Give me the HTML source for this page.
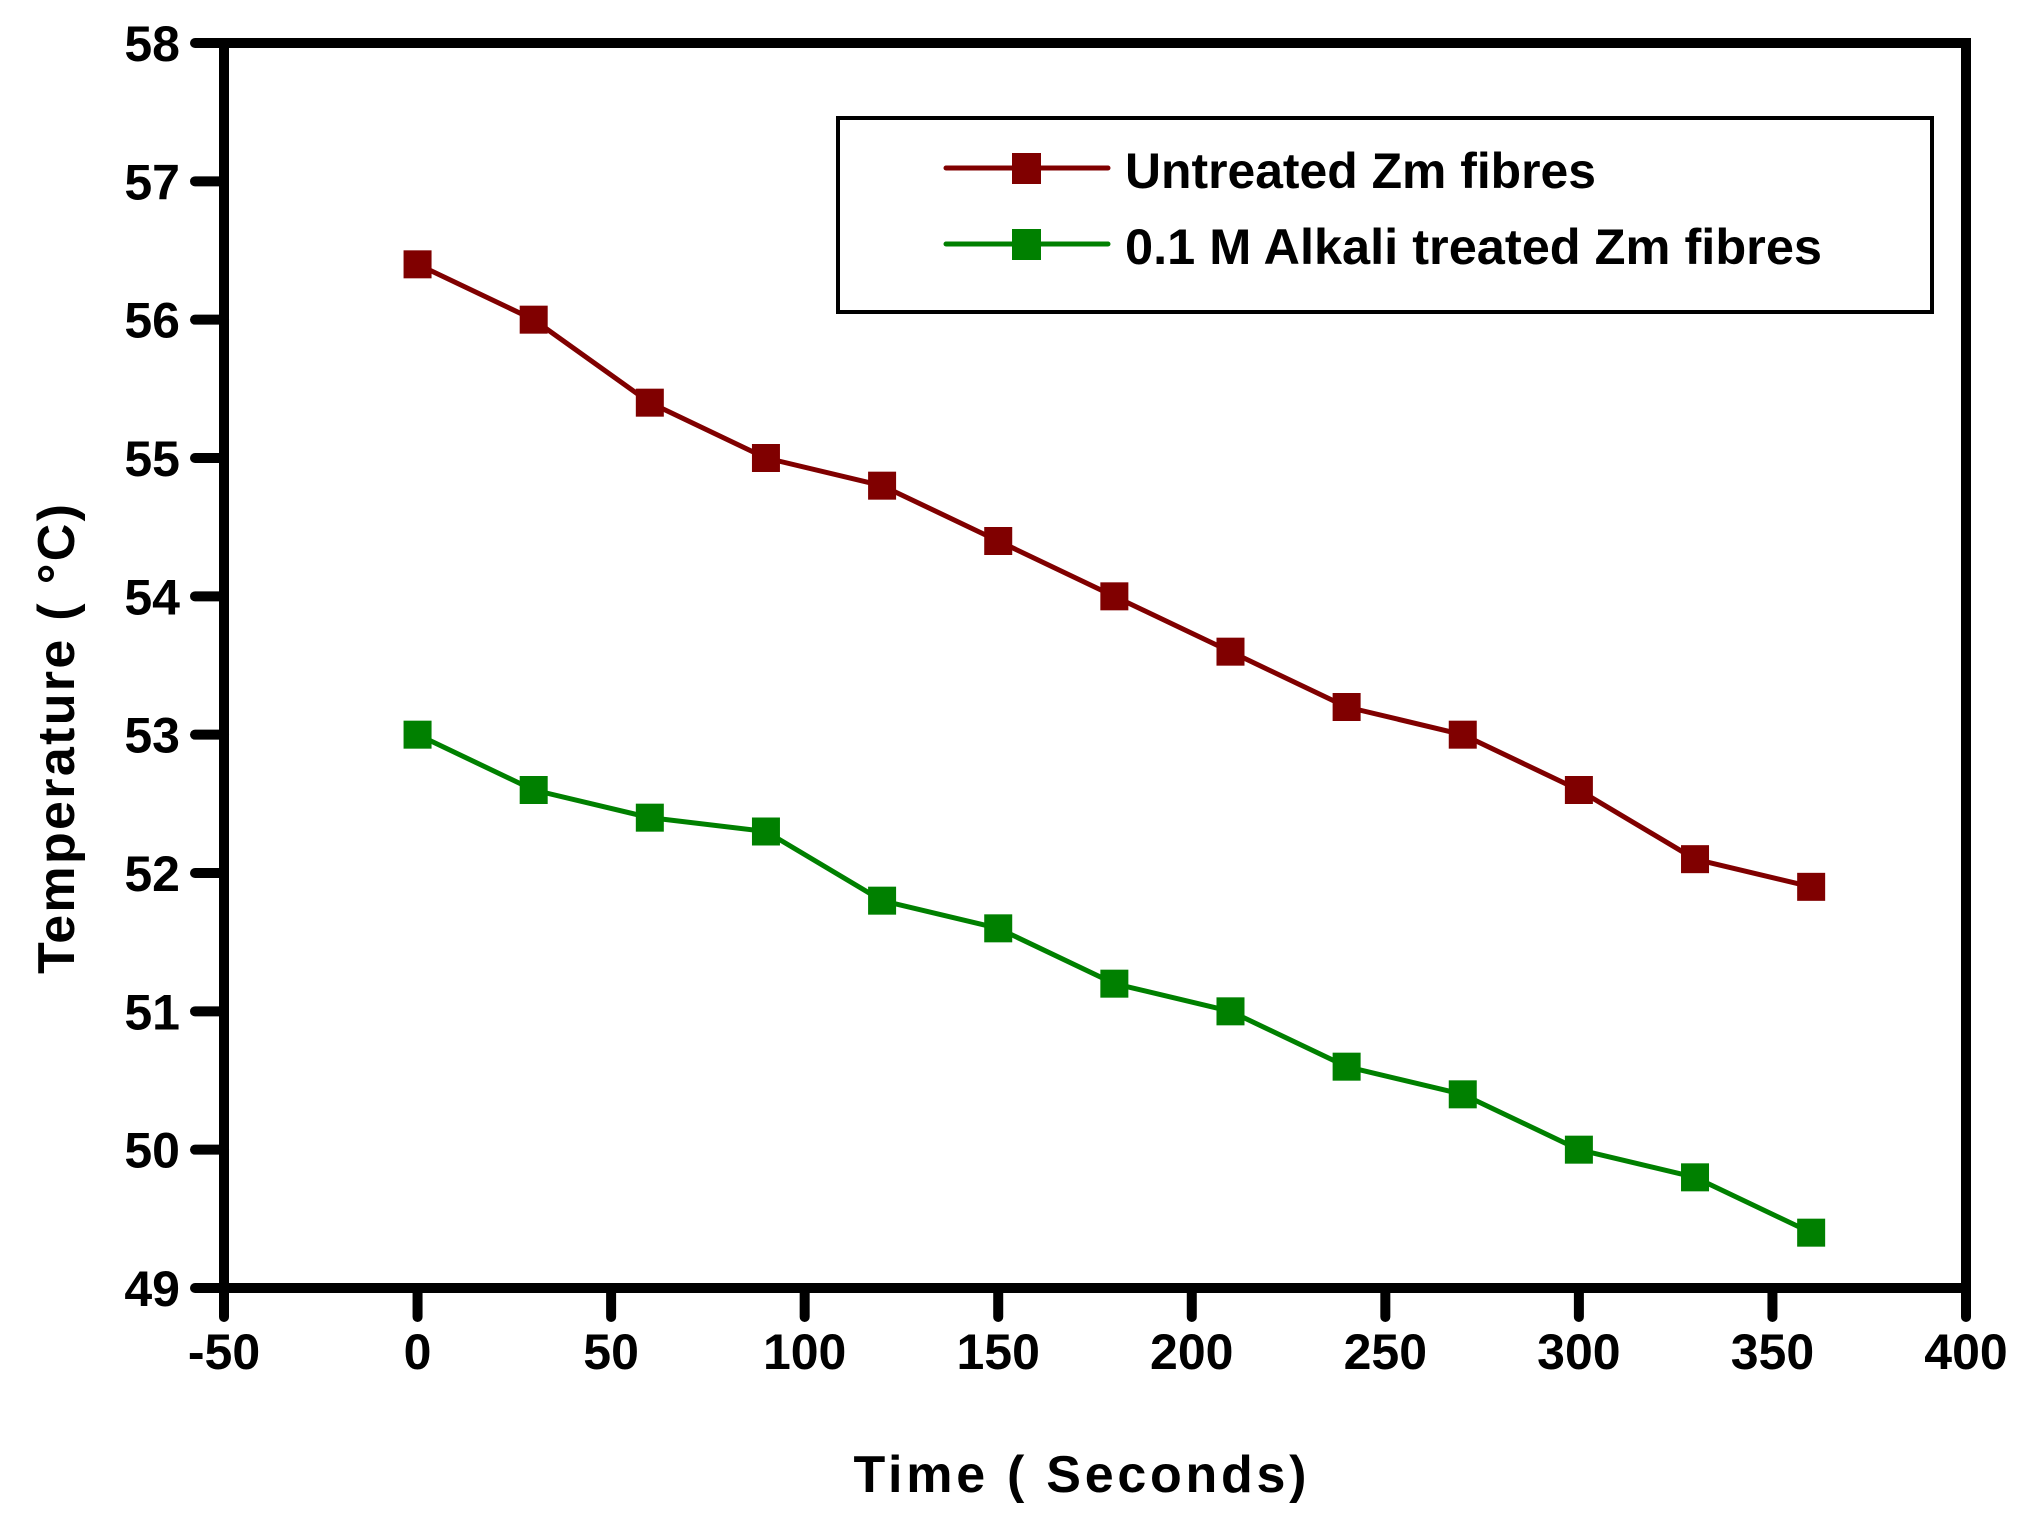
<!DOCTYPE html>
<html><head><meta charset="utf-8"><style>
html,body{margin:0;padding:0;background:#fff;}
svg{display:block;font-family:"Liberation Sans",sans-serif;font-weight:bold;}
</style></head><body>
<svg id="chart" width="2024" height="1519" viewBox="0 0 2024 1519" xmlns="http://www.w3.org/2000/svg">
<g id="axes"></g>
<g id="series"></g>
<g id="legend">
  <rect x="838" y="118" width="1094" height="194" fill="#fff" stroke="#000" stroke-width="4"/>
  <line x1="946" y1="168" x2="1108" y2="168" stroke="#800000" stroke-width="5" stroke-linecap="round"/>
  <rect x="1012" y="153" width="29" height="31" fill="#800000"/>
  <text x="1125" y="188" font-size="50" textLength="471" lengthAdjust="spacingAndGlyphs">Untreated Zm fibres</text>
  <line x1="946" y1="244" x2="1108" y2="244" stroke="#008000" stroke-width="5" stroke-linecap="round"/>
  <rect x="1012" y="229" width="29" height="31" fill="#008000"/>
  <text x="1125" y="264" font-size="50" textLength="697" lengthAdjust="spacingAndGlyphs">0.1 M Alkali treated Zm fibres</text>
</g>
<text x="1080" y="1492" font-size="52" text-anchor="middle" textLength="453" lengthAdjust="spacing">Time (   Seconds)</text>
<text x="0" y="0" font-size="52" text-anchor="middle" textLength="470" lengthAdjust="spacing" transform="translate(74,739) rotate(-90)">Temperature (   °C)</text>
</svg>
<script>
const times = [0,30,60,90,120,150,180,210,240,270,300,330,360];
const untreated = [56.4,56.0,55.4,55.0,54.8,54.4,54.0,53.6,53.2,53.0,52.6,52.1,51.9];
const alkali = [53.0,52.6,52.4,52.3,51.8,51.6,51.2,51.0,50.6,50.4,50.0,49.8,49.4];
const xTicks = [-50,0,50,100,150,200,250,300,350,400];
const yTicks = [49,50,51,52,53,54,55,56,57,58];

const NS = "http://www.w3.org/2000/svg";
const X0 = 224, X1 = 1966, Y0 = 1288, Y1 = 43;
function xs(v){ return X0 + (v - (-50)) / 450 * (X1 - X0); }
function ys(v){ return Y0 - (v - 49) / 9 * (Y0 - Y1); }
function mk(tag, attrs, parent){
  const e = document.createElementNS(NS, tag);
  for (const k in attrs) e.setAttribute(k, attrs[k]);
  parent.appendChild(e);
  return e;
}
const axes = document.getElementById('axes');
const frame = mk('rect', {x:X0, y:Y1, width:X1-X0, height:Y0-Y1, fill:'none', stroke:'#000', 'stroke-width':10}, axes);


xTicks.forEach(t => {
  const x = xs(t);
  const l = mk('line', {x1:x, y1:Y0, x2:x, y2:Y0+29, stroke:'#000', 'stroke-width':10, 'stroke-linecap':'round'}, axes);
  
  
  const tx = mk('text', {x:x, y:1369, 'font-size':50, 'text-anchor':'middle'}, axes);
  tx.textContent = t;
  
  
});
yTicks.forEach(t => {
  const y = ys(t);
  const l = mk('line', {x1:X0, y1:y, x2:X0-29, y2:y, stroke:'#000', 'stroke-width':10, 'stroke-linecap':'round'}, axes);
  
  
  const tx = mk('text', {x:180, y:y+18, 'font-size':50, 'text-anchor':'end'}, axes);
  tx.textContent = t;
  
  
});
const seriesG = document.getElementById('series');
function drawSeries(vals, color, name){
  const pts = times.map((t,i) => xs(t) + ',' + ys(vals[i])).join(' ');
  const pl = mk('polyline', {points:pts, fill:'none', stroke:color, 'stroke-width':5, 'stroke-linejoin':'round'}, seriesG);
  
  
  times.forEach((t,i) => {
    const r = mk('rect', {x:xs(t)-14, y:ys(vals[i])-14, width:28, height:28, fill:color}, seriesG);
    
    
  });
}
drawSeries(untreated, '#800000', 'untreated');
drawSeries(alkali, '#008000', 'alkali');
</script>
</body></html>
